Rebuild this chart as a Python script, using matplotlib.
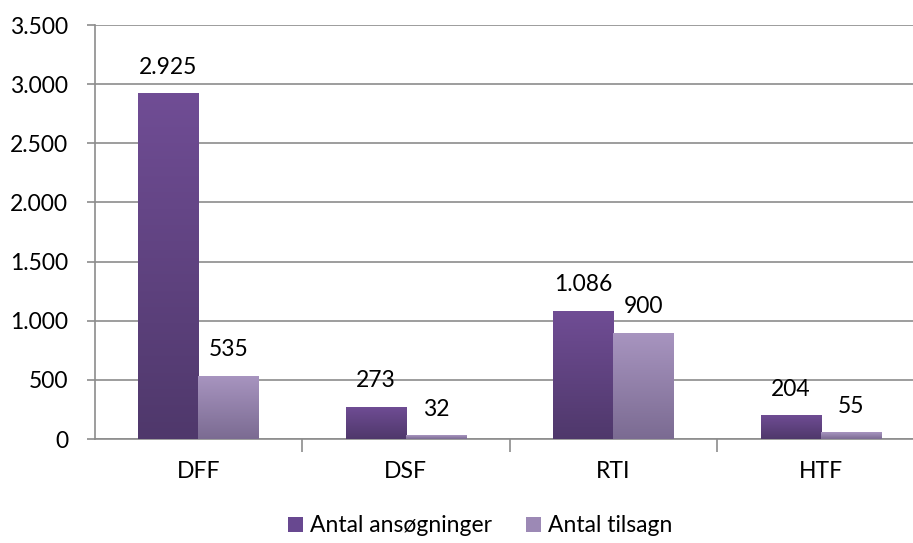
import numpy as np
import matplotlib.pyplot as plt
from matplotlib.colors import LinearSegmentedColormap
from matplotlib.patches import Patch

# Data
categories = ['DFF', 'DSF', 'RTI', 'HTF']
ansoegninger = [2925, 273, 1086, 204]
tilsagn = [535, 32, 900, 55]
series_names = ['Antal ansøgninger', 'Antal tilsagn']

plt.rcParams['font.family'] = ['Lato', 'DejaVu Sans']
FS = 16.5


def fmt(v):
    return f"{v:,}".replace(',', '.')


def gradient_fill(ax, bars, top_color, bottom_color):
    cmap = LinearSegmentedColormap.from_list('g', [bottom_color, top_color])
    grad = np.linspace(0, 1, 256).reshape(-1, 1)
    for bar in bars:
        x0, y0 = bar.get_x(), bar.get_y()
        w, h = bar.get_width(), bar.get_height()
        im = ax.imshow(grad, cmap=cmap, origin='lower', aspect='auto',
                       extent=[x0, x0 + w, y0, y0 + h], zorder=bar.get_zorder())
        im.set_clip_path(bar)
        bar.set_facecolor('none')


fig = plt.figure(figsize=(9.13, 5.43), dpi=100)
ax = fig.add_axes([94.5 / 913, 104 / 543, 830 / 913, 414 / 543])

x = np.arange(len(categories))
w = 0.29
bars1 = ax.bar(x - w / 2, ansoegninger, w, color='#6A4A8E', edgecolor='none', zorder=3)
bars2 = ax.bar(x + w / 2, tilsagn, w, color='#9A88B4', edgecolor='none', zorder=3)
gradient_fill(ax, bars1, '#704D95', '#4F386B')
gradient_fill(ax, bars2, '#A895C0', '#7B6B92')

for bars, vals in [(bars1, ansoegninger), (bars2, tilsagn)]:
    for bar, v in zip(bars, vals):
        ax.annotate(fmt(v), (bar.get_x() + bar.get_width() / 2, v),
                    xytext=(0, 11), textcoords='offset points',
                    ha='center', va='bottom', fontsize=FS, color='black')

ax.set_xlim(-0.5, len(categories) - 0.5)
ax.set_ylim(0, 3500)
ax.set_yticks(np.arange(0, 3501, 500))
ax.set_yticklabels([fmt(v) for v in range(0, 3501, 500)], fontsize=FS)
ax.yaxis.grid(True, color='#8C8C8C', linewidth=1.2, zorder=0)
ax.set_axisbelow(True)

ax.set_xticks(x)
ax.set_xticklabels(categories, fontsize=FS)
ax.tick_params(axis='x', length=0, pad=16)
ax.set_xticks(np.arange(0.5, len(categories) - 0.5, 1), minor=True)
ax.tick_params(axis='x', which='minor', length=9, color='#8C8C8C', width=1.2)
ax.tick_params(axis='y', length=6, color='#8C8C8C', width=1.2, pad=13)

for s in ['top', 'right']:
    ax.spines[s].set_visible(False)
for s in ['left', 'bottom']:
    ax.spines[s].set_color('#8C8C8C')
    ax.spines[s].set_linewidth(1.2)

handles = [Patch(facecolor='#684890', edgecolor='none'),
           Patch(facecolor='#9C89B5', edgecolor='none')]
fig.legend(handles, series_names, loc='center', bbox_to_anchor=(480 / 913, 1 - 526 / 543),
           ncol=2, frameon=False, fontsize=FS, handlelength=0.65, handleheight=0.65,
           handletextpad=0.3, columnspacing=1.5)

fig.savefig('out.png', dpi=100)
